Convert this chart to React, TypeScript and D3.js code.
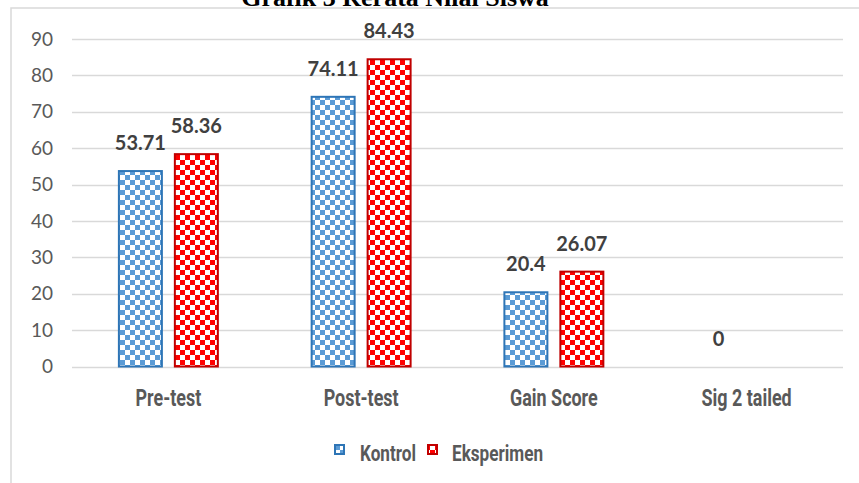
import { useEffect, useRef } from 'react';
import * as d3 from 'd3';

const width = 859;
const height = 483;

const categories = ['Pre-test', 'Post-test', 'Gain Score', 'Sig 2 tailed'];
const seriesNames = ['Kontrol', 'Eksperimen'];
const kontrol: (number | null)[] = [53.71, 74.11, 20.4, 0];
const eksperimen: (number | null)[] = [58.36, 84.43, 26.07, null];
const yTicks = [0, 10, 20, 30, 40, 50, 60, 70, 80, 90];

const margin = { top: 39, right: 16, bottom: 117, left: 72 };

const App = () => {
  const ref = useRef<SVGSVGElement>(null);

  useEffect(() => {
    const svg = d3.select(ref.current);
    svg.selectAll('*').remove();

    // checker patterns
    const defs = svg.append('defs');
    const makePattern = (id: string, color: string) => {
      const p = defs.append('pattern')
        .attr('id', id)
        .attr('width', 10).attr('height', 10)
        .attr('patternUnits', 'userSpaceOnUse');
      p.append('rect').attr('width', 10).attr('height', 10).attr('fill', '#fff');
      p.append('rect').attr('width', 5).attr('height', 5).attr('fill', color);
      p.append('rect').attr('x', 5).attr('y', 5).attr('width', 5).attr('height', 5).attr('fill', color);
    };
    makePattern('chkBlue', '#5b9bd5');
    makePattern('chkRed', '#ff0000');
    const fills: Record<string, string> = { Kontrol: 'url(#chkBlue)', Eksperimen: 'url(#chkRed)' };
    const strokes: Record<string, string> = { Kontrol: '#2e75b6', Eksperimen: '#c00000' };

    // outer frame
    svg.append('path')
      .attr('d', `M11,${height + 2} L11,8 L${width + 2},8`)
      .attr('fill', 'none')
      .attr('stroke', '#d9d9d9')
      .attr('stroke-width', 1.5);

    // title (partly cut off at top)
    svg.append('text')
      .attr('x', 395).attr('y', 6)
      .attr('text-anchor', 'middle')
      .attr('font-family', '"Liberation Serif", "Times New Roman", serif')
      .attr('font-weight', 'bold')
      .attr('font-size', 26)
      .attr('fill', '#000')
      .text('Grafik 3 Rerata Nilai Siswa');

    const y = d3.scaleLinear().domain([0, 90]).range([366.5, margin.top]);
    const x0 = d3.scaleBand().domain(categories).range([margin.left, width - margin.right]);
    const x1 = d3.scaleBand().domain(seriesNames).range([0, x0.bandwidth()])
      .paddingInner(0.196).paddingOuter(0.82);

    // grid
    svg.append('g').selectAll('line').data(yTicks).join('line')
      .attr('x1', margin.left).attr('x2', width - margin.right)
      .attr('y1', d => Math.round(y(d)) + 0.5).attr('y2', d => Math.round(y(d)) + 0.5)
      .attr('stroke', '#d9d9d9').attr('stroke-width', 1.3);

    // y tick labels
    svg.append('g').selectAll('text').data(yTicks).join('text')
      .attr('x', 53).attr('y', d => y(d))
      .attr('dy', '0.35em')
      .attr('text-anchor', 'end')
      .attr('font-family', 'Lato, "Open Sans", sans-serif')
      .attr('font-size', 19)
      .attr('fill', '#595959')
      .text(d => d);

    const rows = categories.flatMap((c, i) => [
      { cat: c, s: 'Kontrol', v: kontrol[i] },
      { cat: c, s: 'Eksperimen', v: eksperimen[i] },
    ]);

    // bars
    svg.append('g').selectAll('rect').data(rows.filter(r => r.v !== null && r.v > 0)).join('rect')
      .attr('x', d => (x0(d.cat) as number) + (x1(d.s) as number) + 1)
      .attr('y', d => y(d.v as number))
      .attr('width', x1.bandwidth() - 2)
      .attr('height', d => y(0) - y(d.v as number))
      .attr('fill', d => fills[d.s])
      .attr('stroke', d => strokes[d.s])
      .attr('stroke-width', 2);

    // data labels
    svg.append('g').selectAll('text').data(rows.filter(r => r.v !== null)).join('text')
      .attr('x', d => (x0(d.cat) as number) + (x1(d.s) as number) + x1.bandwidth() / 2)
      .attr('y', d => y(d.v as number) - 21)
      .attr('text-anchor', 'middle')
      .attr('font-family', 'Lato, "Open Sans", sans-serif')
      .attr('font-weight', 'bold')
      .attr('font-size', 20)
      .attr('fill', '#404040')
      .text(d => String(d.v));

    // category labels (condensed)
    svg.append('g').selectAll('text').data(categories).join('text')
      .attr('transform', d => `translate(${(x0(d) as number) + x0.bandwidth() / 2},406) scale(0.78,1)`)
      .attr('text-anchor', 'middle')
      .attr('font-family', 'Roboto, "Liberation Sans", sans-serif')
      .attr('font-weight', 'bold')
      .attr('font-size', 23)
      .attr('fill', '#595959')
      .text(d => d);

    // legend
    const legendItems = [
      { s: 'Kontrol', sx: 335, tx: 360 },
      { s: 'Eksperimen', sx: 428, tx: 452 },
    ];
    const lg = svg.append('g');
    legendItems.forEach(it => {
      lg.append('rect')
        .attr('x', it.sx).attr('y', 445)
        .attr('width', 9).attr('height', 9)
        .attr('fill', fills[it.s])
        .attr('stroke', strokes[it.s])
        .attr('stroke-width', 2);
      lg.append('text')
        .attr('transform', `translate(${it.tx},461) scale(0.78,1)`)
        .attr('font-family', 'Roboto, "Liberation Sans", sans-serif')
        .attr('font-weight', 'bold')
        .attr('font-size', 22)
        .attr('fill', '#595959')
        .text(it.s);
    });
  }, []);

  return (
    <svg
      ref={ref}
      width={width}
      height={height}
      style={{ position: 'absolute', left: 0, top: 0, background: '#fff' }}
    />
  );
};

export default App;
